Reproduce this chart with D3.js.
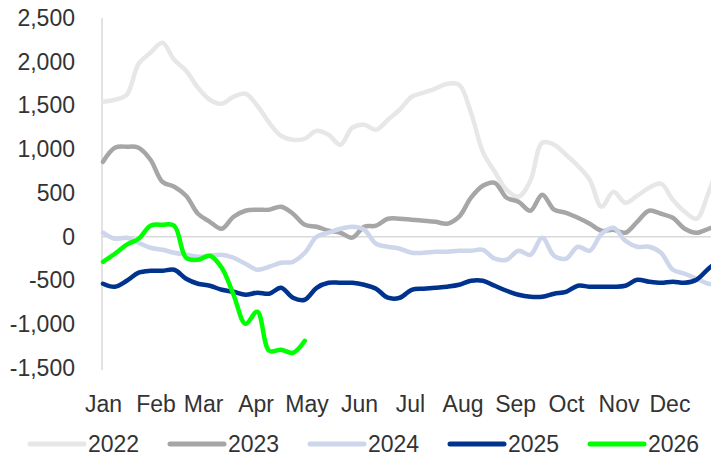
<!DOCTYPE html>
<html>
<head>
<meta charset="utf-8">
<script src="https://cdn.jsdelivr.net/npm/d3@7"></script>
<style>
  body { margin: 0; background: #fff; }
  text { font-family: "Liberation Sans", Arial, sans-serif; fill: #333; }
</style>
</head>
<body>
<script>
// weekly values, week 0 = first week of January
const years = ['2022', '2023', '2024', '2025', '2026']
const colors = ['#e7e7e7', '#a6a6a6', '#cdd6eb', '#00338d', '#00ff00']

const v2022 = [1543, 1566, 1623, 1977, 2103, 2217, 2023, 1897, 1703, 1566, 1520, 1600, 1634, 1497,
  1303, 1154, 1109, 1120, 1212, 1166, 1052, 1246, 1280, 1223, 1337, 1452, 1600, 1646, 1692, 1749,
  1737, 1417, 971, 743, 537, 457, 640, 1074, 1052, 937, 811, 651, 343, 514, 389, 469, 560, 606,
  423, 286, 206, 503, 880]
const v2023 = [857, 1017, 1029, 1017, 880, 629, 571, 469, 263, 171, 91, 229, 297, 309, 309, 343,
  263, 137, 114, 69, 46, -10, 114, 126, 206, 206, 194, 183, 171, 149, 229, 446, 583, 617, 446, 400,
  297, 480, 309, 274, 217, 149, 69, 80, 46, 171, 297, 263, 217, 91, 46, 91, 137]
const v2024 = [46, -23, -11, -69, -126, -149, -183, -206, -229, -217, -206, -240, -309, -377, -343,
  -297, -286, -183, 0, 46, 91, 114, 80, -80, -114, -137, -183, -183, -171, -171, -160, -160, -149,
  -251, -263, -160, -206, -11, -217, -251, -114, -160, 34, 103, -46, -114, -114, -183, -377, -423,
  -480, -537, -549]
const v2025 = [-537, -571, -503, -411, -389, -389, -377, -480, -537, -560, -606, -629, -663, -640,
  -651, -583, -697, -720, -583, -526, -526, -526, -549, -594, -697, -697, -606, -594, -583, -571,
  -549, -503, -503, -560, -617, -663, -686, -686, -651, -629, -560, -571, -571, -571, -560, -491,
  -514, -526, -514, -526, -491, -366, -263]
const v2026 = [-286, -194, -91, -23, 126, 137, 126, -240, -263, -217, -354, -663, -994, -857,
  -1303, -1292, -1326, -1189]

const series = [v2022, v2023, v2024, v2025, v2026]
const yTicks = [-1500, -1000, -500, 0, 500, 1000, 1500, 2000, 2500]

const width = 711, height = 461
const start = new Date(2021, 0, 1), end = new Date(2022, 0, 1)

const svg = d3.select('body').append('svg')
  .attr('width', width)
  .attr('height', height)

const x = d3.scaleTime().domain([start, end]).range([103, 722])
const y = d3.scaleLinear().domain([-1500, 2500]).range([368, 18])

// value axis
const yAxis = d3.axisLeft(y).tickValues(yTicks).tickSize(0).tickPadding(27)
  .tickFormat(d => d3.format(',')(d).replace('−', '-'))
const gy = svg.append('g').attr('transform', 'translate(102,0)').call(yAxis)
gy.select('.domain').remove()
gy.selectAll('text').attr('font-size', 23).attr('fill', '#333').attr('font-family', null)
svg.append('line')
  .attr('x1', 102).attr('x2', 102)
  .attr('y1', y(2500)).attr('y2', y(-1500) + 2)
  .attr('stroke', '#d9d9d9').attr('stroke-width', 1.5)

// zero line
svg.append('line')
  .attr('x1', 102).attr('x2', width)
  .attr('y1', y(0)).attr('y2', y(0))
  .attr('stroke', '#d9d9d9').attr('stroke-width', 1.5)

// month labels
const xAxis = d3.axisBottom(x).ticks(d3.timeMonth.every(1)).tickFormat(d3.timeFormat('%b')).tickSize(0)
const gx = svg.append('g').attr('transform', 'translate(0,393)').call(xAxis)
gx.select('.domain').remove()
gx.selectAll('text').attr('font-size', 23).attr('fill', '#333').attr('font-family', null)
  .attr('dy', '0.71em')
// last tick is the following January; drop it
gx.selectAll('.tick').filter(d => d >= end).remove()

const line = d3.line()
  .x((d, i) => x(d3.timeDay.offset(start, 7 * i)))
  .y(d => y(d))
  .curve(d3.curveCatmullRom.alpha(0.5))

series.forEach((s, k) => {
  svg.append('path')
    .datum(s)
    .attr('d', line)
    .attr('fill', 'none')
    .attr('stroke', colors[k])
    .attr('stroke-width', 4.5)
    .attr('stroke-linejoin', 'round')
    .attr('stroke-linecap', 'round')
})

// legend
const legend = svg.append('g').attr('transform', 'translate(30,444)')
years.forEach((yr, k) => {
  const g = legend.append('g').attr('transform', `translate(${k * 140},0)`)
  g.append('line')
    .attr('x1', 0).attr('x2', 54)
    .attr('stroke', colors[k]).attr('stroke-width', 5)
    .attr('stroke-linecap', 'round')
  g.append('text')
    .attr('x', 58).attr('y', 8)
    .attr('font-size', 23)
    .text(yr)
})
</script>
</body>
</html>
